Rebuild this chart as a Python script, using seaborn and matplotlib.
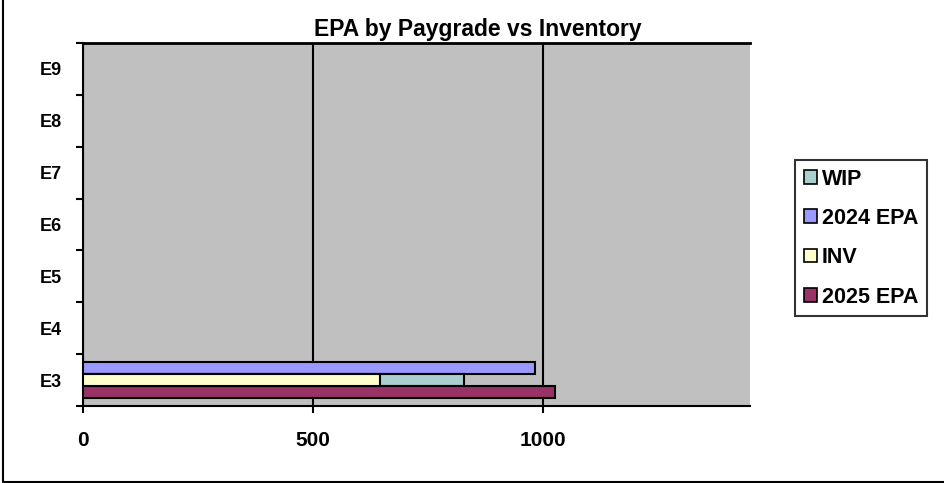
import matplotlib

matplotlib.use("Agg")
import matplotlib.pyplot as plt
import pandas as pd
import seaborn as sns
from matplotlib.lines import Line2D
from matplotlib.patches import Patch
from matplotlib.ticker import FixedLocator


# paygrades, bottom to top as on the chart; only E3 has values
GRADES = ["E3", "E4", "E5", "E6", "E7", "E8", "E9"]
EPA_2024 = [982, None, None, None, None, None, None]
INV = [645, None, None, None, None, None, None]
WIP = [183, None, None, None, None, None, None]
EPA_2025 = [1027, None, None, None, None, None, None]

COLORS = {
    "WIP": "#A9CFCF",
    "2024 EPA": "#9999FF",
    "INV": "#FFFFCC",
    "2025 EPA": "#993366",
}
ROWS = ["2024 EPA", "INV+WIP", "2025 EPA"]


def long_frame(pairs):
    recs = []
    for row, values in pairs:
        for grade, v in zip(GRADES, values):
            if v is not None:
                recs.append({"grade": grade, "row": row, "value": v})
    return pd.DataFrame(recs)


inv_wip = [None if a is None else a + b for a, b in zip(INV, WIP)]
back = long_frame([("2024 EPA", EPA_2024), ("INV+WIP", inv_wip), ("2025 EPA", EPA_2025)])
front = long_frame([("INV+WIP", INV)])

sns.set_theme(style="ticks")
plt.rcParams["font.family"] = ["Liberation Sans", "DejaVu Sans"]

fig = plt.figure(figsize=(9.45, 4.83), dpi=100)
ax = fig.add_axes([83 / 945, 1 - 406 / 483, (750 - 83) / 945, (406 - 43) / 483])
ax.set_facecolor("#C0C0C0")

order = GRADES[::-1]
common = dict(x="value", y="grade", hue="row", order=order, hue_order=ROWS,
              orient="y", dodge=True, width=0.68, gap=0, edgecolor="black",
              linewidth=1.5, saturation=1, errorbar=None, legend=False, ax=ax,
              zorder=3)
sns.barplot(data=back, palette={"2024 EPA": COLORS["2024 EPA"], "INV+WIP": COLORS["WIP"],
                                "2025 EPA": COLORS["2025 EPA"]}, **common)
sns.barplot(data=front, palette={r: COLORS["INV"] for r in ROWS}, **common)

ax.set_xlim(0, 1450)
ax.set_ylim(6.5, -0.5)
ax.set_xticks([0, 500, 1000])
ax.set_xticklabels(["0", "500", "1000"])
ax.set_xlabel("")
ax.set_ylabel("")
ax.xaxis.grid(True, color="black", linewidth=1.5)
ax.yaxis.grid(False)
ax.set_axisbelow(True)

ax.yaxis.set_minor_locator(FixedLocator([i - 0.5 for i in range(8)]))
ax.tick_params(axis="y", which="major", length=0, pad=15, labelsize=13)
ax.tick_params(axis="y", which="minor", length=5, width=1.5, color="black", direction="out")
ax.tick_params(axis="x", length=5, width=1.5, color="black", direction="out",
               pad=13, labelsize=15)
for lab in ax.get_xticklabels() + ax.get_yticklabels():
    lab.set_fontweight("bold")
    lab.set_color("black")

for side in ["left", "bottom"]:
    ax.spines[side].set_color("black")
    ax.spines[side].set_linewidth(1.5)
ax.spines["top"].set_visible(True)
ax.spines["top"].set_color("black")
ax.spines["top"].set_linewidth(2)
ax.spines["right"].set_visible(False)

fig.text(478 / 945, 1 - 36 / 483, "EPA by Paygrade vs Inventory", ha="center",
         va="baseline", fontsize=16.5, fontweight="bold", color="black")

handles = [Patch(facecolor=COLORS[k], edgecolor="black", linewidth=1.2)
           for k in ["WIP", "2024 EPA", "INV", "2025 EPA"]]
leg = fig.legend(handles, ["WIP", "2024 EPA", "INV", "2025 EPA"],
                 loc="upper left", bbox_to_anchor=(795 / 945, 1 - 160 / 483),
                 prop={"weight": "bold", "size": 15.5}, frameon=True, fancybox=False,
                 handlelength=0.6, handleheight=0.6, handletextpad=0.25,
                 labelspacing=0.85, borderpad=0.4, borderaxespad=0)
leg.get_frame().set_edgecolor("black")
leg.get_frame().set_linewidth(1.5)
for t in leg.get_texts():
    t.set_color("black")

# outer chart border (left and bottom visible in the original crop)
fig.add_artist(Line2D([3 / 945, 3 / 945, 1], [1, 1.5 / 483, 1.5 / 483],
                      transform=fig.transFigure, color="black", linewidth=1.5))

fig.savefig("out.png", dpi=100)
